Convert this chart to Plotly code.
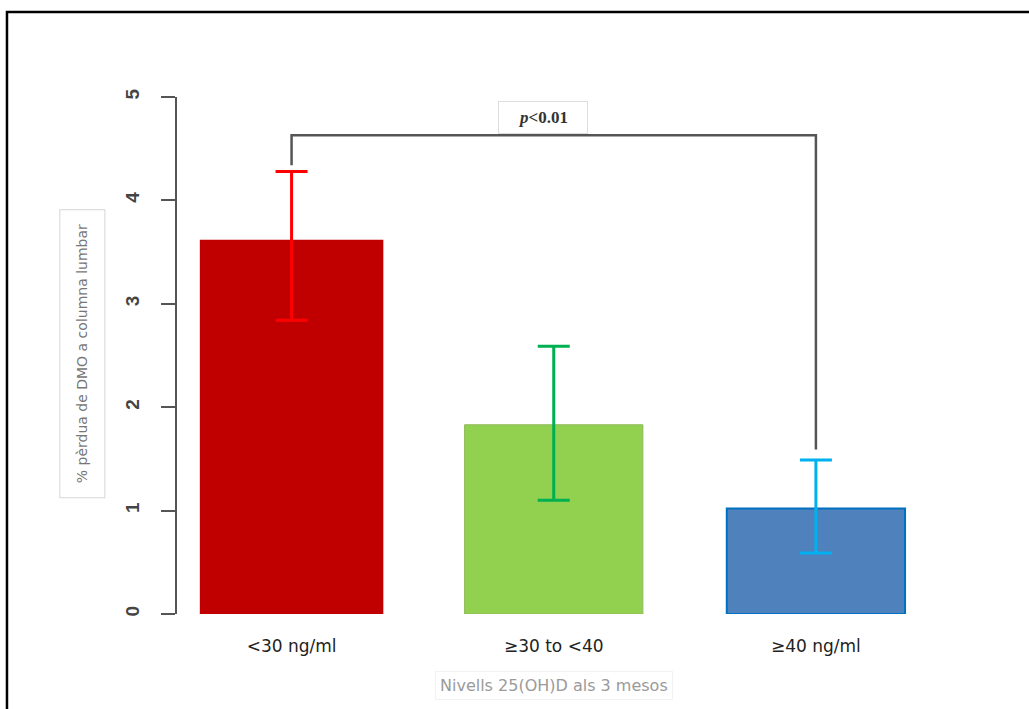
import plotly.graph_objects as go

# Bone mineral density loss by 25(OH)D level at 3 months
categories = ["<30 ng/ml", "≥30 to <40", "≥40 ng/ml"]
mean_loss = [3.62, 1.83, 1.02]
err_upper = [0.66, 0.76, 0.47]
err_lower = [0.78, 0.73, 0.43]

fill_colors = ["#C00000", "#92D050", "#4F81BD"]
edge_colors = ["#C00000", "#8FB85A", "#0070C0"]
edge_widths = [0, 1, 2]
bar_widths = [0.7, 0.68, 0.68]
err_colors = ["#FF0000", "#00B050", "#00B0F0"]

y_ticks = [0, 1, 2, 3, 4, 5]
y_tick_labels = ["0", "1", "2", "3", "4", "5"]

# significance bracket between first and last group
bracket_left_start = 4.34
bracket_level = 4.63
bracket_right_end = 1.59
p_label = "<b><i>p</i><0.01</b>"

fig = go.Figure()

# bracket drawn first so it sits behind bars and error bars
fig.add_trace(go.Scatter(
    x=[categories[0], categories[0], categories[2], categories[2]],
    y=[bracket_left_start, bracket_level, bracket_level, bracket_right_end],
    mode="lines", line=dict(color="#555555", width=2.5),
    showlegend=False, hoverinfo="skip", cliponaxis=False,
))

for cat, val, up, lo, fc, ec, ew, bw, erc in zip(categories, mean_loss, err_upper, err_lower,
                                               fill_colors, edge_colors, edge_widths,
                                               bar_widths, err_colors):
    fig.add_trace(go.Bar(
        x=[cat], y=[val], width=bw,
        marker=dict(color=fc, line=dict(color=ec, width=ew)),
        error_y=dict(type="data", symmetric=False, array=[up], arrayminus=[lo],
                     color=erc, thickness=3, width=16),
        showlegend=False, hoverinfo="skip",
    ))

fig.add_annotation(
    x=categories[1], y=bracket_level, xref="x", yref="y",
    text=p_label, showarrow=False, xshift=-11, yshift=1,
    yanchor="bottom", xanchor="center",
    font=dict(family="Liberation Serif", size=17, color="#333333"),
    bordercolor="#dddddd", borderwidth=1, borderpad=6, bgcolor="white",
    width=76,
)

fig.add_annotation(
    x=-0.123, y=0.503, xref="paper", yref="paper",
    xanchor="center", yanchor="middle",
    text="% pèrdua de DMO a columna lumbar", textangle=-90, showarrow=False,
    font=dict(family="DejaVu Sans", size=14, color="#777777"),
    bordercolor="#d6d6d6", borderwidth=1, borderpad=14,
)

fig.add_annotation(
    x=categories[1], y=-0.135, xref="x", yref="paper",
    xanchor="center", yanchor="middle", yshift=-2,
    text="Nivells 25(OH)D als 3 mesos", showarrow=False,
    font=dict(family="DejaVu Sans", size=16, color="#9a9a9a"),
    bordercolor="#f2f2f2", borderwidth=1, borderpad=4,
)

# outer frame
fig.add_shape(type="rect", xref="paper", yref="paper",
              x0=-0.2208, x1=1.12, y0=-0.2, y1=1.1644,
              line=dict(color="black", width=2.5), layer="above")

fig.update_layout(
    width=1029, height=709,
    margin=dict(l=177, r=82, t=97, b=95),
    paper_bgcolor="white", plot_bgcolor="white",
    barmode="overlay",
    font=dict(family="Liberation Sans"),
    xaxis=dict(
        type="category", categoryorder="array", categoryarray=categories,
        range=[-0.437, 2.5],
        showline=False, showgrid=False, ticks="",
        tickfont=dict(family="DejaVu Sans", size=17, color="#222222"),
        ticklabelstandoff=20,
    ),
    yaxis=dict(
        range=[0, 5], tickvals=y_ticks,
        ticktext=[f"<b>{t}</b>" for t in y_tick_labels],
        showline=True, linecolor="#555555", linewidth=2,
        ticks="outside", ticklen=14, tickwidth=2, tickcolor="#555555",
        tickangle=-90, showgrid=False, zeroline=False,
        tickfont=dict(family="Liberation Sans", size=19, color="#444444"),
        ticklabelstandoff=14,
    ),
)

fig.write_html("out.html")
